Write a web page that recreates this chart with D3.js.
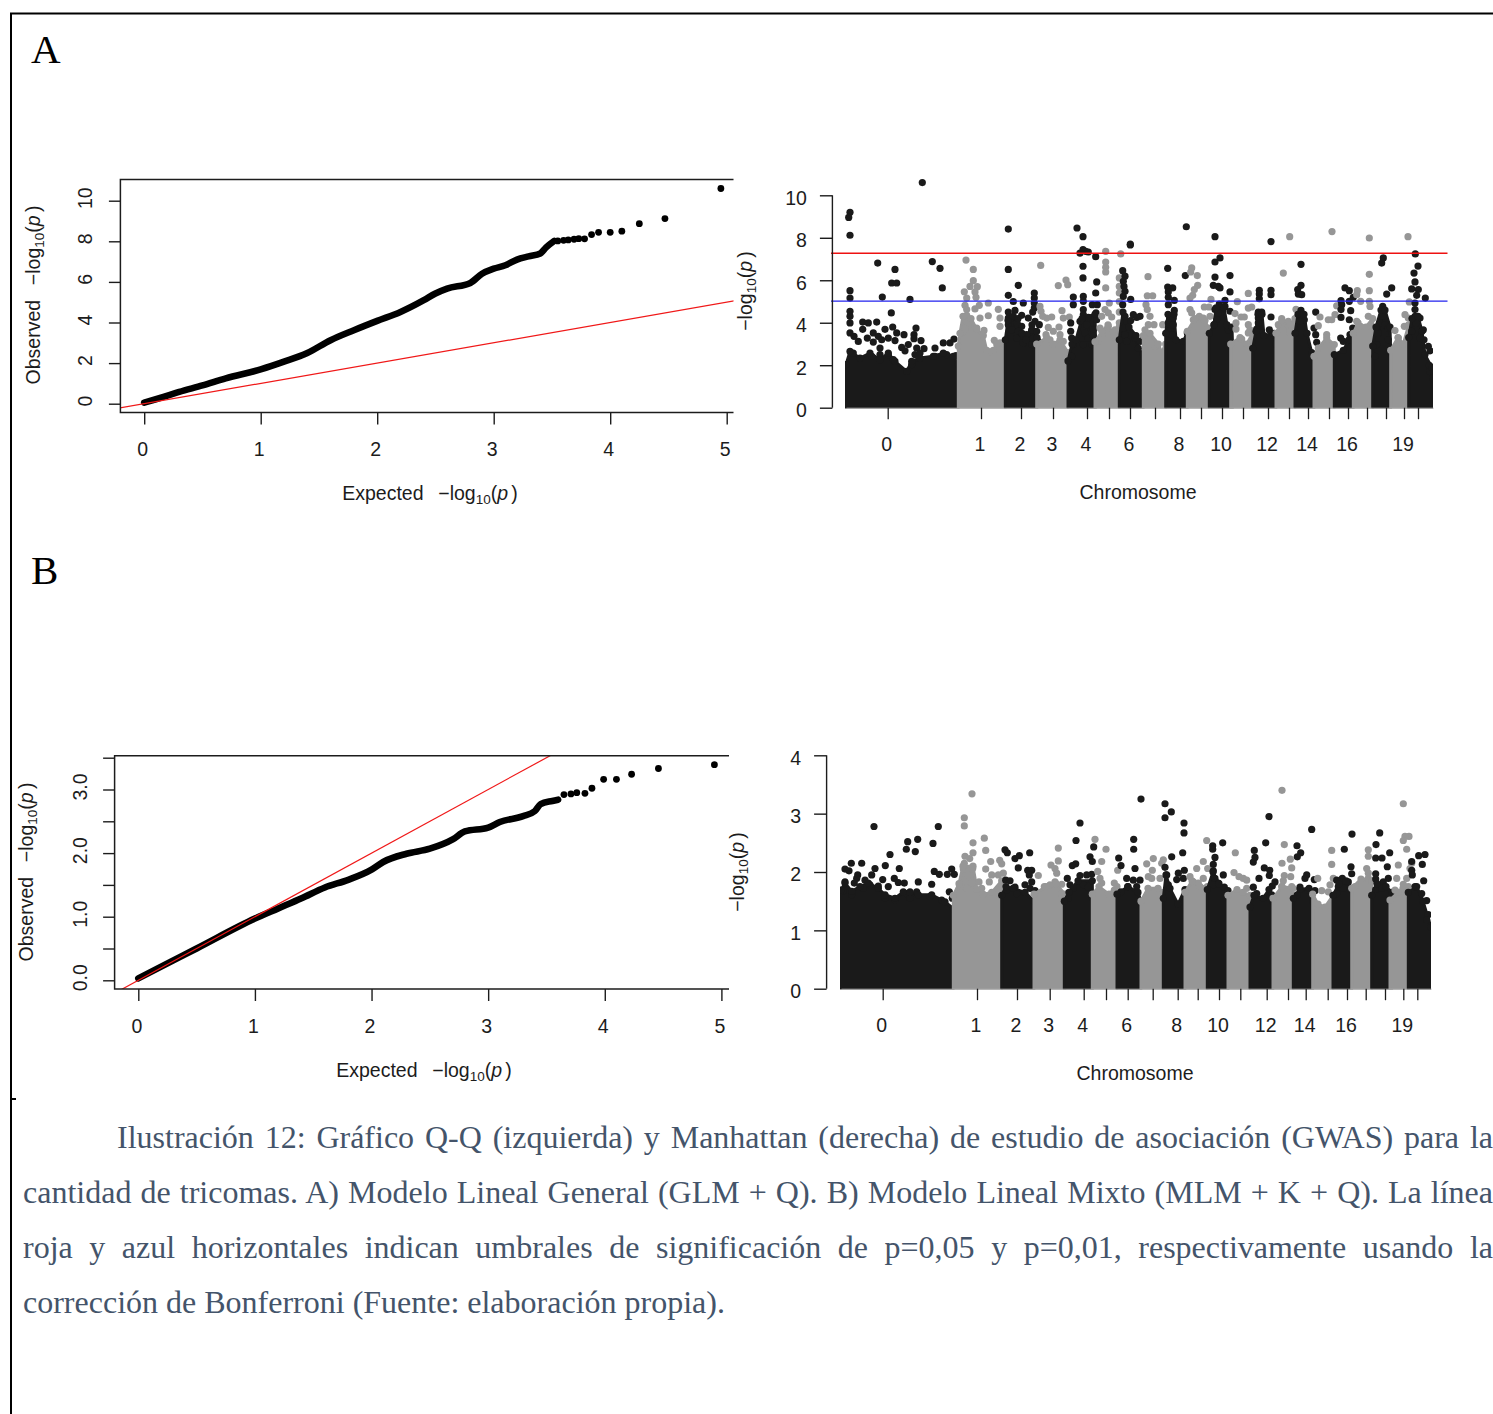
<!DOCTYPE html>
<html>
<head>
<meta charset="utf-8">
<script src="https://d3js.org/d3.v7.min.js"></script>
<style>
  html, body { margin: 0; padding: 0; background: #fff; overflow: hidden; }
  text { font-family: "Liberation Sans", Arial, sans-serif; font-size: 19.5px; fill: #1c1c1c; }
  .cap { font-family: "Liberation Serif", serif; font-size: 32px; fill: #44546a; }
</style>
</head>
<body>
<svg id="frame" width="1493" height="1414"></svg>
<script>
// qq plot A: dense part is a ribbon of points, tail is single dots
var qqLineXA = [0,0.1,0.2,0.3,0.5,0.7,1.0,1.2,1.4,1.6,1.8,2.0,2.2,2.4,2.5,2.6,2.8,2.9,3.0,3.1,3.2,3.3,3.4,3.45,3.52];
var qqLineYA = [0.05,0.22,0.4,0.58,0.9,1.25,1.69,2.07,2.5,3.13,3.62,4.08,4.52,5.1,5.43,5.67,5.95,6.4,6.65,6.82,7.1,7.26,7.4,7.7,8.02];
var qqTailXA = [3.55,3.6,3.64,3.69,3.73,3.78,3.84,3.9,4.0,4.1,4.25,4.47,4.95];
var qqTailYA = [8.02,8.05,8.07,8.1,8.13,8.12,8.33,8.44,8.44,8.5,8.87,9.12,10.6];

// qq plot B
var qqLineXB = [0,0.2,0.5,1.0,1.2,1.4,1.6,1.8,2.0,2.1,2.3,2.5,2.7,2.8,3.0,3.1,3.3,3.4,3.45,3.55,3.6];
var qqLineYB = [0.03,0.22,0.5,0.97,1.13,1.29,1.46,1.58,1.74,1.86,1.99,2.07,2.22,2.34,2.4,2.49,2.58,2.66,2.77,2.82,2.84];
var qqTailXB = [3.65,3.71,3.76,3.83,3.89,3.99,4.1,4.23,4.46,4.94];
var qqTailYB = [2.92,2.93,2.95,2.94,3.02,3.16,3.16,3.24,3.33,3.39];

var qqTicksX = [0,1,2,3,4,5];
var qqTicksYA = [0,2,4,6,8,10];
var qqTicksYB = [0,0.5,1,1.5,2,2.5,3,3.5];

var chromNames = ["0","1","2","3","4","","6","","8","","10","","12","","14","","16","","","19",""];
var manhTicksYA = [0,2,4,6,8,10];
var manhTicksYB = [0,1,2,3,4];
var thresholds = [7.27, 5.02];

// tick position of each chromosome along the genome axis
var chromTicksA = [41.7,135,175,207,241,263,284,309,334,355,376,397,422,443,462,483,502,521,540,558,572];
var chromTicksB = [41.7,136,176,208.7,242.7,265,286.7,311.7,336.7,356.7,378,399.3,425.7,447,464.7,486.7,506,524.7,544,562.3,576.3];

// top of the solid block of points, per chromosome, [position, -log10 p]
var blockA = [
  [[0,2.03],[4,2.65],[14,2.34],[24,2.57],[34,2.26],[42.3,2.57],[49,2.18],[60.7,1.71],[65.7,2.18],[74,2.34],[87.3,2.42],[97.3,2.57],[107.3,2.42],[112.3,2.03]],
  [[112.3,2.9],[114,3.5],[117,4.3],[125,4.2],[130.7,3.7],[137.3,3.4],[140.7,2.7],[147.3,2.7],[150.7,3],[159.3,2.7]],
  [[159.3,3.2],[162,4.1],[172,4.2],[176,3.5],[180,3.2],[186,3.9],[191,3.3]],
  [[190.7,3],[200.7,3.3],[207.3,3],[214,3.2],[222,2.6]],
  [[222,2.2],[226,3],[230,3.2],[236,4.2],[249,4.4],[249.5,3.2]],
  [[249,3.1],[256,3.6],[262,3.9],[268,3.4],[273.3,3.8]],
  [[273.3,3.2],[277,4.5],[283,3.8],[290,3.4],[292.3,2.8],[297.3,2.5]],
  [[297.3,3.4],[304,3.5],[312.3,3],[315.7,2.6],[319.7,3]],
  [[319.7,3.5],[322,4.4],[328,4.4],[330,3.2],[337.3,3.12],[341.3,3.52]],
  [[341.3,3.6],[349,4.2],[359,4.1],[362.3,3.75]],
  [[363.3,3.5],[368,3.9],[370,4.7],[378,4.7],[381,3.9],[386,3.8],[386.5,3]],
  [[384.7,3],[394,3.3],[400.7,3],[406.7,3.5]],
  [[406.7,2.8],[410,3.6],[412,4.4],[416,4.4],[418,3.4],[428,3.5],[430,3]],
  [[430,3.5],[436,4.1],[444,3.9],[449,4.2]],
  [[449,3.5],[452,4.4],[458,4.4],[461,3.5],[465.7,2.6],[468,2.4]],
  [[468,2.42],[472.3,2.81],[480.7,3.28],[488.3,2.97]],
  [[488.3,2.5],[497.3,2.7],[503,3.2],[507.3,3.4]],
  [[507.3,3.5],[512,4],[520,3.8],[526.7,4.2]],
  [[526.7,2.9],[530,3.8],[535,4.6],[539,4.6],[544,3.8],[544.7,2.6]],
  [[544.7,2.7],[552,3.3],[557.3,3],[562.7,3.9]],
  [[562.7,3.3],[566,4.2],[572,4.3],[576,3.6],[579,2.5],[585.7,1.9],[586.7,1.4]]
];

// single points above the block
var dotsA = [
  [[76.3,10.6],[4,9.2],[2.7,8.96],[4,8.12],[31.7,6.81],[49,6.51],[45.7,5.87],[50.7,5.87],[86.3,6.88],[94,6.56],[96.3,5.64],[4,5.51],[4,5.16],[36.3,5.21],[64,5.1],[45.3,4.46],[4,4.54],[4,4.3],[4,3.99],[16.7,4.03],[22.3,3.99],[30.7,4.03],[16.7,3.69],[39,3.69],[46.7,3.8],[50.7,3.52],[58,3.44],[70,3.75],[68,3.44],[4,3.52],[8,3.36],[12.3,3.12],[21.3,3.28],[27.3,3.52],[32.3,3.36],[35.7,3.2],[27.3,3.09],[42.3,3.28],[49,3.16],[68,3.25],[75,3.16],[62.3,2.97],[55.7,2.84],[34,2.81],[97.3,3.05],[104,3.05],[108,3.23],[89,2.81],[70.7,2.81],[78,2.78],[59,2.68],[34,2.5],[25.7,2.42],[42.3,2.5],[69,2.5],[74,2.57],[7.3,2.57],[100.7,2.5],[110,2.45],[89,2.42],[47.3,2.26],[65.7,2.03]],
  [[120,6.95],[127.3,6.51],[127.3,5.98],[124,5.71],[131.3,5.7],[118.3,5.46],[129,5.45],[120.7,5.16],[130,5.2],[142.3,4.93],[119,4.82],[133.3,4.82],[120.7,4.62],[129,4.65],[152.3,4.63],[142.3,4.33],[134,4.22],[154,4.22],[120.7,4.35],[120,4.07],[122.3,3.91],[154,3.83],[130.7,3.75],[138,3.64],[115.7,3.52],[119,3.72],[148.3,3.17],[157.3,2.97],[154,3.05],[144,2.62],[153.3,2.73]],
  [[162.3,8.41],[162.3,6.51],[172.3,5.76],[162.3,5.29],[188.3,5.4],[188.3,5.16],[167.3,5],[177.3,4.93],[188.3,4.93],[188.3,4.69],[162.3,4.5],[169,4.58],[186.7,4.5],[162.3,4.22],[167.3,4.3],[175.7,4.35],[182.3,4.22],[162.3,3.91],[170.7,3.99],[189,4.07],[193.3,3.91],[175.7,3.83],[165.7,3.67],[185.7,3.67],[172.3,3.6],[190.7,3.6],[180.7,3.44],[187.3,3.28],[170.7,3.28],[177.3,3.05],[192.3,3.12],[185.7,2.97]],
  [[194.7,6.7],[220,6.01],[221.7,5.79],[212.3,5.75],[194,4.77],[195,4.54],[216,4.57],[196.7,4.3],[205.7,4.27],[200.7,4.22],[217.3,4.22],[223.3,4.27],[202.3,3.78],[213,3.8],[207.3,3.6],[200,3.44],[204,3.2],[214,3.44],[217.3,3.12]],
  [[231,8.46],[237,8.05],[237,7.44],[239.7,7.36],[242.3,7.33],[234,7.28],[249.7,7.11],[237,6.66],[237,6.11],[250.7,5.92],[249.7,5.4],[227.3,5.21],[237.3,5.24],[227.3,4.85],[237.3,5.01],[246.3,4.85],[251.3,4.85],[237.3,4.62],[250,4.46],[237.3,4.38],[242.3,4.25],[234,4.07],[250.7,4.14],[224.7,3.99],[240.7,3.91],[224.7,3.6],[247.3,3.67],[239,3.52],[225.7,3.28],[242.3,3.28],[247.3,3.36],[237.3,2.97],[227.3,2.97],[245.7,2.97],[225.7,2.42]],
  [[259.7,7.36],[274.7,7.24],[259.7,6.86],[259.7,6.61],[259.7,6.39],[259.7,5.64],[263.3,4.93],[259,4.62],[262.3,4.46],[255.7,4.3],[265.7,4.27],[262.3,3.83],[254,3.75],[269,3.67],[257.3,3.52],[269,3.28],[252.3,3.12],[273.3,6.11],[273.3,5.4],[273.3,5.71],[273.3,5],[273.3,4.5],[273.3,4]],
  [[284.3,7.66],[284.3,7.7],[276.7,6.45],[279,6.19],[277.3,5.95],[278,5.71],[279,5.48],[277.3,5.24],[284.7,5.1],[276.7,4.85],[279,4.3],[287.3,4.38],[290.7,4.25],[280.7,4.07],[284.7,4.1],[277.3,3.75],[279,3.44],[289,3.28],[280.7,3.12],[294,4.3],[297.3,3.28],[294,3.12]],
  [[302,6.17],[301.3,5.27],[306.7,5.27],[300,4.85],[301.3,4.62],[304,4.3],[308,3.91],[316.7,3.91],[302.3,3.91],[299,3.67],[309,2.89]],
  [[340.3,8.52],[321.7,6.56],[339.3,6.22],[321.7,5.68],[326.7,5.64],[322.3,5.45],[322.3,5.2],[328.3,5.05],[322.3,4.85],[328.3,4.58],[324,4.3],[327.3,4.22],[322.3,3.99],[327.3,3.91],[322.3,3.6],[325.7,3.44]],
  [[345.7,6.58],[344.7,6.39],[351.3,6.22],[351.7,5.76],[348.3,5.56],[346.7,5.29],[344,5.16],[358.3,4.74],[344,4.62],[345.7,4.46],[353.3,4.3],[357.3,4.22],[347.3,4.14],[365,5.1],[364,4.3],[363,4.74]],
  [[369,8.05],[374,7.05],[369,6.86],[369,6.15],[384,6.22],[367.3,5.76],[372.3,5.71],[374,5.64],[384,5.45],[379,5.05],[373.3,4.88],[379,4.77],[384,4.54],[369,4.62],[372.3,4.46],[370.7,4.14],[382.3,3.67],[368,3.91]],
  [[391.3,4.99],[402.3,5.38],[405.7,4.74],[402.3,4.69],[389,4.43],[395,4.27],[398.3,4.27],[390,3.99],[402.3,3.91],[404,3.67],[390,3.7],[395.7,3.23],[402.3,3.52]],
  [[425,7.82],[413.3,5.53],[413.3,5.35],[425,5.53],[425,5.32],[413.3,5.13],[412.3,4.5],[415.7,4.5],[425,4.27],[412.3,4.22],[410.7,3.7],[423.3,3.67],[412.3,3.99],[427.3,3.44]],
  [[443.7,8.05],[437.3,6.34],[450,4.63],[435.7,4.19],[442.3,4.07],[432.3,3.91],[445.7,3.91],[437.3,3.67],[444,3.52]],
  [[455,6.75],[455,5.76],[451.7,5.56],[452.3,5.35],[455.7,5.32],[455,4.58],[469.7,4.5],[454,4.3],[458.3,4.14],[468,3.75],[469.7,3.44],[470.7,3.08],[454,4.07]],
  [[486,8.29],[474,4.27],[472.3,3.86],[482.3,4.14],[485.7,4.14],[489,4.38],[490.7,4.8],[480.7,3.44]],
  [[499,5.64],[503.3,5.51],[495,5.04],[495.7,4.85],[507.3,5.2],[503.3,5.01],[504.7,4.57],[495,4.62],[495,4.25],[503.3,4.14],[506.7,3.75],[494.7,3.28],[504,3.44],[505.7,3.17],[497.3,3.12]],
  [[523.3,7.99],[523.3,6.28],[523.3,5.51],[511.3,5.51],[510.7,5.32],[514.7,5.01],[523.3,5.01],[524,4.77],[522.3,4.3],[510.7,4.07],[514,3.83]],
  [[537.3,7.05],[535.7,6.81],[545.7,5.64],[540.7,5.35],[536.7,4.77],[536.7,4.54],[536.7,4.3],[534,3.99],[539,3.91],[530.7,3.75],[542.3,3.75],[532.3,3.52],[542.3,3.2],[530.7,2.97],[529,2.42]],
  [[562,8.05],[549,3.63],[559,4.38],[562.3,4.22],[558.3,3.83],[563.3,4.98],[552.3,3.28]],
  [[569.3,7.24],[572,6.67],[568,6.34],[569,5.92],[565.7,5.59],[572.3,5.56],[570.7,5.29],[579.3,5.16],[569,4.93],[569,4.62],[569,4.3],[574,4.22],[570,3.99],[577.3,3.67],[565.7,3.6],[578,3.2],[584,2.68],[582.3,2.89],[583.3,1.99],[584,1.71],[574,3.28]]
];

var blockB = [
  [[0,1.69],[4,1.81],[10.7,1.67],[19,1.75],[27.3,1.81],[37.3,1.72],[44,1.61],[54,1.55],[62.3,1.66],[69,1.66],[77.3,1.61],[90.7,1.61],[104,1.49],[112.3,1.37]],
  [[112.3,1.6],[118,1.8],[122,2.1],[132,2.1],[136,1.7],[142,1.62],[150.7,1.65],[160.7,1.85]],
  [[160.7,1.6],[165,1.75],[172,1.72],[184,1.65],[193,1.5]],
  [[193,1.62],[205,1.75],[215,1.8],[224,1.62]],
  [[223.3,1.5],[228,1.65],[237,1.85],[251.3,1.85],[251.5,1.55]],
  [[251.3,1.62],[258,1.75],[268,1.62],[276,1.75]],
  [[276,1.62],[287,1.75],[297,1.65],[300,1.5]],
  [[300,1.5],[307,1.72],[317,1.72],[322.3,1.65]],
  [[322.3,1.55],[325,1.95],[329,1.72],[337,1.45],[344,1.7]],
  [[344,1.65],[351,1.85],[359,1.75],[366.3,1.75]],
  [[366.3,1.7],[372,2],[378,1.8],[387,1.68]],
  [[387,1.6],[396,1.7],[402,1.65],[409,1.6]],
  [[409,1.4],[413,1.6],[422,1.55],[428,1.7],[432,1.5]],
  [[432,1.55],[441,1.75],[452,1.72]],
  [[452.3,1.55],[459,1.7],[468,1.72],[471.7,1.5]],
  [[471.7,1.62],[477,1.45],[484,1.4],[492,1.6]],
  [[492,1.6],[498,1.8],[505,1.85],[510.7,1.72]],
  [[510.7,1.72],[520,1.88],[530.7,1.85]],
  [[530.7,1.6],[536,1.8],[545,1.75],[550.7,1.65]],
  [[549,1.52],[557,1.65],[562,1.72],[567.3,1.75]],
  [[567.3,1.65],[575.7,1.75],[582,1.5],[590,1.05]]
];

var dotsB = [
  [[33,2.78],[97.3,2.78],[76.7,2.56],[66.7,2.52],[65.3,2.39],[74.3,2.35],[92,2.49],[49,2.3],[10.3,2.15],[20.7,2.15],[44.3,2.11],[34,2.06],[58.3,2.06],[4,2.05],[8,2.02],[30.7,1.95],[16.7,1.95],[93.3,2.01],[98.3,1.96],[106.3,1.96],[110.7,2.05],[113.3,1.96],[41.7,1.87],[53.3,1.89],[57.3,1.82],[63.3,1.81],[77.3,1.83],[4,1.83],[15.7,1.89],[24,1.86],[13.3,1.81],[90.7,1.79],[37.3,1.76],[29,1.78],[47.3,1.75],[2.3,1.68],[22.3,1.72],[108.3,1.66],[65.7,1.63],[75.7,1.66],[10.7,1.61],[44,1.55],[111.3,1.55],[89,1.58],[54,1.52],[100.7,1.52],[69,1.55]],
  [[131,3.34],[123.3,2.93],[123.3,2.79],[143.3,2.58],[132,2.5],[144.7,2.37],[132,2.33],[124,2.27],[128.7,2.23],[149.7,2.18],[158.7,2.2],[160.7,2.14],[123.3,2.15],[131.7,2.06],[144.7,2.05],[122.3,2.05],[162.3,1.98],[150.7,1.95],[157.3,1.95],[127.3,1.95],[148.3,1.83],[138,1.83],[130.7,1.81],[120,1.75],[125.7,1.72],[140.7,1.72]],
  [[164,2.38],[166.3,2.33],[174,2.23],[178.3,2.28],[188.7,2.33],[177.3,2.07],[186.7,2.03],[190.7,2.03],[188.3,1.95],[190.7,1.83],[164.7,1.86],[169,1.85],[184,1.78],[189,1.72],[194,1.68],[165.7,1.69],[174,1.74],[175.7,1.63]],
  [[217.3,2.41],[217.3,2.19],[210,2.12],[214,2.06],[215.7,1.98],[197.3,1.94],[214,1.83],[220.7,1.79],[209,1.78],[203.3,1.75],[220.7,1.62]],
  [[239,2.84],[235,2.54],[252.7,2.43],[249,2.26],[251.3,2.18],[234.7,2.14],[231.3,2.11],[250.7,1.96],[245.7,1.95],[239,1.94],[226.3,1.89],[229,1.78],[242.3,1.78],[232.3,1.72],[247.3,1.74],[227.3,1.55]],
  [[254,2.56],[265,2.39],[260.7,2.18],[256.7,2.01],[259,1.89],[260.7,1.81],[273.3,1.81],[273.3,1.69],[276.7,2.03]],
  [[292.7,2.56],[292.7,2.39],[277.7,2.24],[280,2.11],[285.7,1.89],[292.3,1.86],[286.7,1.75],[280,1.66],[294,2.06],[299,1.86],[295.7,1.75]],
  [[312.3,2.23],[305.7,2.14],[311.3,2.03],[322.3,2.21],[320.7,2.15],[307.3,1.92],[319,1.89],[310.7,1.89]],
  [[300,3.25],[324,3.17],[330.3,3.03],[324,2.93],[343,2.84],[343,2.67],[341.7,2.33],[330.7,2.26],[324,2.08],[325.7,1.95],[343.3,2.03],[337.3,1.98],[335.7,1.87],[342.3,1.89],[327.3,1.78]],
  [[365.7,2.54],[362.3,2.18],[355.7,2.06],[366.7,2.06],[349,1.92],[362.3,1.89],[357.3,1.81],[352.3,1.83]],
  [[381.7,2.5],[371.7,2.45],[371.7,2.39],[374,2.25],[372.3,2.13],[372.3,2.02],[382.3,1.95],[374,1.89],[377.3,1.81],[372.3,1.78],[383.3,1.74]],
  [[394.3,2.33],[393,1.99],[398,1.92],[402.3,1.89],[405.7,1.86],[405.7,1.72]],
  [[428,2.95],[424.7,2.5],[413.3,2.37],[414,2.25],[412.3,2.17],[423.3,2.07],[428.7,2.03],[418,1.89],[428.3,1.94],[434,1.83],[431.3,1.76],[412.3,1.74],[415.7,1.63],[430.7,1.61]],
  [[441,3.4],[443.3,2.47],[449.3,2.22],[441,2.15],[450.7,2.07],[443.3,1.94],[449.7,1.92],[442.3,1.85],[440.7,1.75],[450.7,1.75]],
  [[456,2.45],[459.7,2.33],[456.3,2.26],[470.7,2.73],[465.7,1.95],[464,1.89],[473.3,1.87],[459,1.74],[467.3,1.69],[474,1.68],[456.3,1.61]],
  [[490.7,2.37],[490.7,2.13],[476.7,1.89],[492.3,1.89],[489,1.78],[480.7,1.68],[487.3,1.66]],
  [[503.3,2.39],[511,2.65],[510,2.09],[510.7,1.97],[501.3,1.89],[495.7,1.86],[507.3,1.83],[497.3,1.75],[502.3,1.72],[512.3,1.66],[495.7,1.63]],
  [[527.3,2.38],[527.3,2.27],[525.7,2.06],[527.3,1.98],[520.7,1.86],[514,1.75],[527.3,1.89]],
  [[538.7,2.67],[535,2.47],[548.7,2.33],[534.7,2.24],[541,2.24],[546.3,2.09],[534.7,1.97],[534.7,1.88],[547.3,1.89],[542.3,1.83],[534.7,1.7],[540.7,1.72]],
  [[562.3,3.17],[568,2.61],[564,2.61],[562.3,2.54],[565.7,2.39],[557.3,2.12],[570.7,2.15],[569,2.06],[555.7,1.89],[565.7,1.89],[562.3,1.79],[554,1.69]],
  [[577.7,2.28],[584,2.3],[581.3,2.13],[570.7,2.18],[570.7,2.03],[571.3,1.95],[582.7,1.85],[574,1.75],[580.7,1.63],[585.7,1.51],[587.3,1.27],[585.7,1.18]]
];

var captionLines = [
  "Ilustración 12: Gráfico Q-Q (izquierda) y Manhattan (derecha) de estudio de asociación (GWAS) para la",
  "cantidad de tricomas. A) Modelo Lineal General (GLM + Q). B) Modelo Lineal Mixto (MLM + K + Q). La línea",
  "roja y azul horizontales indican umbrales de significación de p=0,05 y p=0,01, respectivamente usando la",
  "corrección de Bonferroni (Fuente: elaboración propia)."
];

var svg = d3.select('#frame');
var black = '#1a1a1a', grey = '#969696';

// page border and stray tick from the document
svg.append('path').attr('d', 'M11,1414V13.5H1493M11,1099H16').attr('fill', 'none').attr('stroke', '#000').attr('stroke-width', 2);

svg.append('text').attr('x', 31).attr('y', 63).text('A')
  .style('font-family', '"Liberation Serif", serif').style('font-size', '41px').style('fill', '#000');
svg.append('text').attr('x', 31).attr('y', 584).text('B')
  .style('font-family', '"Liberation Serif", serif').style('font-size', '41px').style('fill', '#000');

// writes  prefix -log10(p)  with the subscript and the italic p
function logLabel(sel, prefix) {
  sel.append('tspan').text(prefix + '\u2212log');
  sel.append('tspan').attr('dy', 4).style('font-size', '13.5px').text('10');
  sel.append('tspan').attr('dy', -4).text('(');
  sel.append('tspan').style('font-style', 'italic').text('p\u200a');
  sel.append('tspan').text('\u200a)');
}

function qqPlot(o) {
  var x = d3.scaleLinear().domain([0, 5]).range(o.xr);
  var y = d3.scaleLinear().domain(o.yd).range(o.yr);
  var g = svg.append('g');
  var clipId = 'clip' + o.id;

  g.append('clipPath').attr('id', clipId).append('rect')
    .attr('x', o.left).attr('y', o.top).attr('width', o.right - o.left).attr('height', o.bottom - o.top);

  // dense ribbon, then tail dots, then y=x on top
  var line = d3.line().x(function(d){return x(d[0])}).y(function(d){return y(d[1])});
  var ribbon = d3.line().curve(d3.curveMonotoneX).x(function(d){return x(d[0])}).y(function(d){return y(d[1])});
  g.append('path').attr('d', ribbon(d3.zip(o.lx, o.ly)))
    .attr('fill', 'none').attr('stroke', '#000').attr('stroke-width', 6.6)
    .attr('stroke-linecap', 'round').attr('stroke-linejoin', 'round');

  g.selectAll('circle.tail').data(d3.zip(o.tx, o.ty)).enter().append('circle')
    .attr('class', 'tail')
    .attr('cx', function(d){return x(d[0])}).attr('cy', function(d){return y(d[1])})
    .attr('r', 3.4).attr('fill', '#000');

  g.append('path').attr('d', line([[-1, -1], [8, 8]]))
    .attr('clip-path', 'url(#' + clipId + ')')
    .attr('fill', 'none').attr('stroke', '#f01818').attr('stroke-width', 1.2);

  g.append('path')
    .attr('d', 'M' + o.right + ',' + o.top + 'H' + o.left + 'V' + o.bottom + 'H' + o.right)
    .attr('fill', 'none').attr('stroke', '#1c1c1c').attr('stroke-width', 1.5);

  var xAxis = g.append('g').attr('transform', 'translate(0,' + o.bottom + ')')
    .call(d3.axisBottom(x).tickValues(qqTicksX).tickSize(12).tickFormat(d3.format('d')));
  xAxis.select('.domain').remove();
  xAxis.selectAll('line').attr('stroke', '#1c1c1c').attr('stroke-width', 1.4);
  xAxis.selectAll('text').attr('x', -2).attr('y', 43.5).attr('dy', 0);

  var yAxis = g.append('g').attr('transform', 'translate(' + o.left + ',0)')
    .call(d3.axisLeft(y).tickValues(o.yt).tickSize(11.5).tickFormat(o.yf));
  yAxis.select('.domain').remove();
  yAxis.selectAll('line').attr('stroke', '#1c1c1c').attr('stroke-width', 1.4);
  yAxis.selectAll('text')
    .attr('x', 0).attr('y', 0).attr('dy', 0)
    .attr('text-anchor', 'middle')
    .attr('transform', 'translate(' + (o.ylx - o.left) + ',-3) rotate(-90)');

  logLabel(g.append('text').attr('x', o.xlab[0]).attr('y', o.xlab[1]).attr('text-anchor', 'middle'), 'Expected\u00a0\u00a0\u2009');
  logLabel(g.append('text').attr('text-anchor', 'middle')
    .attr('transform', 'translate(' + o.ylab[0] + ',' + o.ylab[1] + ') rotate(-90)'), 'Observed\u00a0\u00a0\u2009');
}

function manhattan(o) {
  var x = d3.scaleLinear().domain(o.xd).range(o.xr);
  var y = d3.scaleLinear().domain(o.yd).range(o.yr);
  var g = svg.append('g');
  var clipId = 'clip' + o.id;

  // points stop flat at the baseline and at both ends of the genome
  g.append('clipPath').attr('id', clipId).append('rect')
    .attr('x', o.xr[0] - 1).attr('y', 0).attr('width', o.xr[1] - o.xr[0] + 1).attr('height', y(0) + 0.8);

  var area = d3.area().x(function(d){return x(d[0])}).y0(y(0)).y1(function(d){return y(d[1])});
  var marks = g.append('g').attr('clip-path', 'url(#' + clipId + ')');

  o.block.forEach(function(tops, i) {
    var col = i % 2 == 0 ? black : grey;
    var chrom = marks.append('g');
    chrom.append('path').attr('d', area(tops))
      .attr('fill', col).attr('stroke', col).attr('stroke-width', 3).attr('stroke-linejoin', 'round');
    // round off the block's top corners with the points that sit there
    chrom.selectAll('circle').data(o.dots[i].concat(tops)).enter().append('circle')
      .attr('cx', function(d){return x(d[0])}).attr('cy', function(d){return y(d[1])})
      .attr('r', 3.6).attr('fill', col);
  });

  if (o.lines) {
    g.selectAll('line.thresh').data(o.lines).enter().append('line')
      .attr('class', 'thresh')
      .attr('x1', x(o.lineSpan[0])).attr('x2', x(o.lineSpan[1]))
      .attr('y1', function(d){return y(d)}).attr('y2', function(d){return y(d)})
      .attr('stroke', function(d, i){return i == 0 ? '#ee1111' : '#2222ee'})
      .attr('stroke-width', 1.4);
  }

  var xAxis = g.append('g').attr('transform', 'translate(0,' + y(0) + ')')
    .call(d3.axisBottom(x).tickValues(o.ticks).tickSize(11.5).tickSizeOuter(0)
      .tickFormat(function(d, i){return chromNames[i]}));
  xAxis.select('.domain').attr('stroke', '#aaa');
  xAxis.selectAll('line').attr('stroke', '#1c1c1c').attr('stroke-width', 1.3);
  xAxis.selectAll('text').attr('x', -1.5).attr('y', o.xly).attr('dy', 0);

  var yAxis = g.append('g').attr('transform', 'translate(' + o.axisX + ',0)')
    .call(d3.axisLeft(y).tickValues(o.yt).tickSize(12.5).tickSizeOuter(0).tickPadding(13).tickFormat(d3.format('d')));
  yAxis.select('.domain').attr('stroke', '#1c1c1c').attr('stroke-width', 1.4)
    .attr('d', 'M0,' + y(o.yd[1]) + 'V' + y(0));
  yAxis.selectAll('line').attr('stroke', '#1c1c1c').attr('stroke-width', 1.4);
  yAxis.selectAll('text').attr('dy', '0.45em');

  g.append('text').attr('x', o.xlab[0]).attr('y', o.xlab[1]).attr('text-anchor', 'middle').text('Chromosome');
  logLabel(g.append('text').attr('text-anchor', 'middle')
    .attr('transform', 'translate(' + o.ylab[0] + ',' + o.ylab[1] + ') rotate(-90)'), '');
}

qqPlot({ id: 'qa', xr: [144.2, 726.7], yd: [0, 10], yr: [403.7, 200.7], left: 120.4, right: 733.5, top: 179.5, bottom: 412.5,
  lx: qqLineXA, ly: qqLineYA, tx: qqTailXA, ty: qqTailYA, yt: qqTicksYA, yf: d3.format('d'), ylx: 92,
  xlab: [430, 500], ylab: [40, 295] });
qqPlot({ id: 'qb', xr: [138.3, 721.4], yd: [0, 3.5], yr: [980.3, 757.7], left: 114.6, right: 729, top: 755.7, bottom: 989,
  lx: qqLineXB, ly: qqLineYB, tx: qqTailXB, ty: qqTailYB, yt: qqTicksYB,
  yf: function(d){ return d % 1 == 0 ? d3.format('.1f')(d) : ''; }, ylx: 87,
  xlab: [424, 1077], ylab: [33, 872] });

manhattan({ id: 'ma', xd: [0, 587], xr: [846, 1433], yd: [0, 10], yr: [407.7, 195.3], axisX: 832.4,
  block: blockA, dots: dotsA, ticks: chromTicksA, yt: manhTicksYA, lines: thresholds, lineSpan: [-15, 601.5],
  xly: 43.5, xlab: [1138, 499], ylab: [752, 291] });
manhattan({ id: 'mb', xd: [0, 590], xr: [841, 1431], yd: [0, 4], yr: [988.7, 755.3], axisX: 826.6,
  block: blockB, dots: dotsB, ticks: chromTicksB, yt: manhTicksYB,
  xly: 43.5, xlab: [1135, 1080], ylab: [744, 872] });

// caption, justified by hand with word spacing
var capBase = [1148, 1203, 1258, 1313];
captionLines.forEach(function(s, i) {
  var left = i == 0 ? 117 : 23;
  var t = svg.append('text').attr('class', 'cap').attr('x', left).attr('y', capBase[i]).text(s);
  if (i < 3) {
    var gaps = s.split(' ').length - 1;
    var extra = (1493 - left - t.node().getComputedTextLength()) / gaps;
    t.attr('word-spacing', extra);
  }
});
</script>
</body>
</html>
